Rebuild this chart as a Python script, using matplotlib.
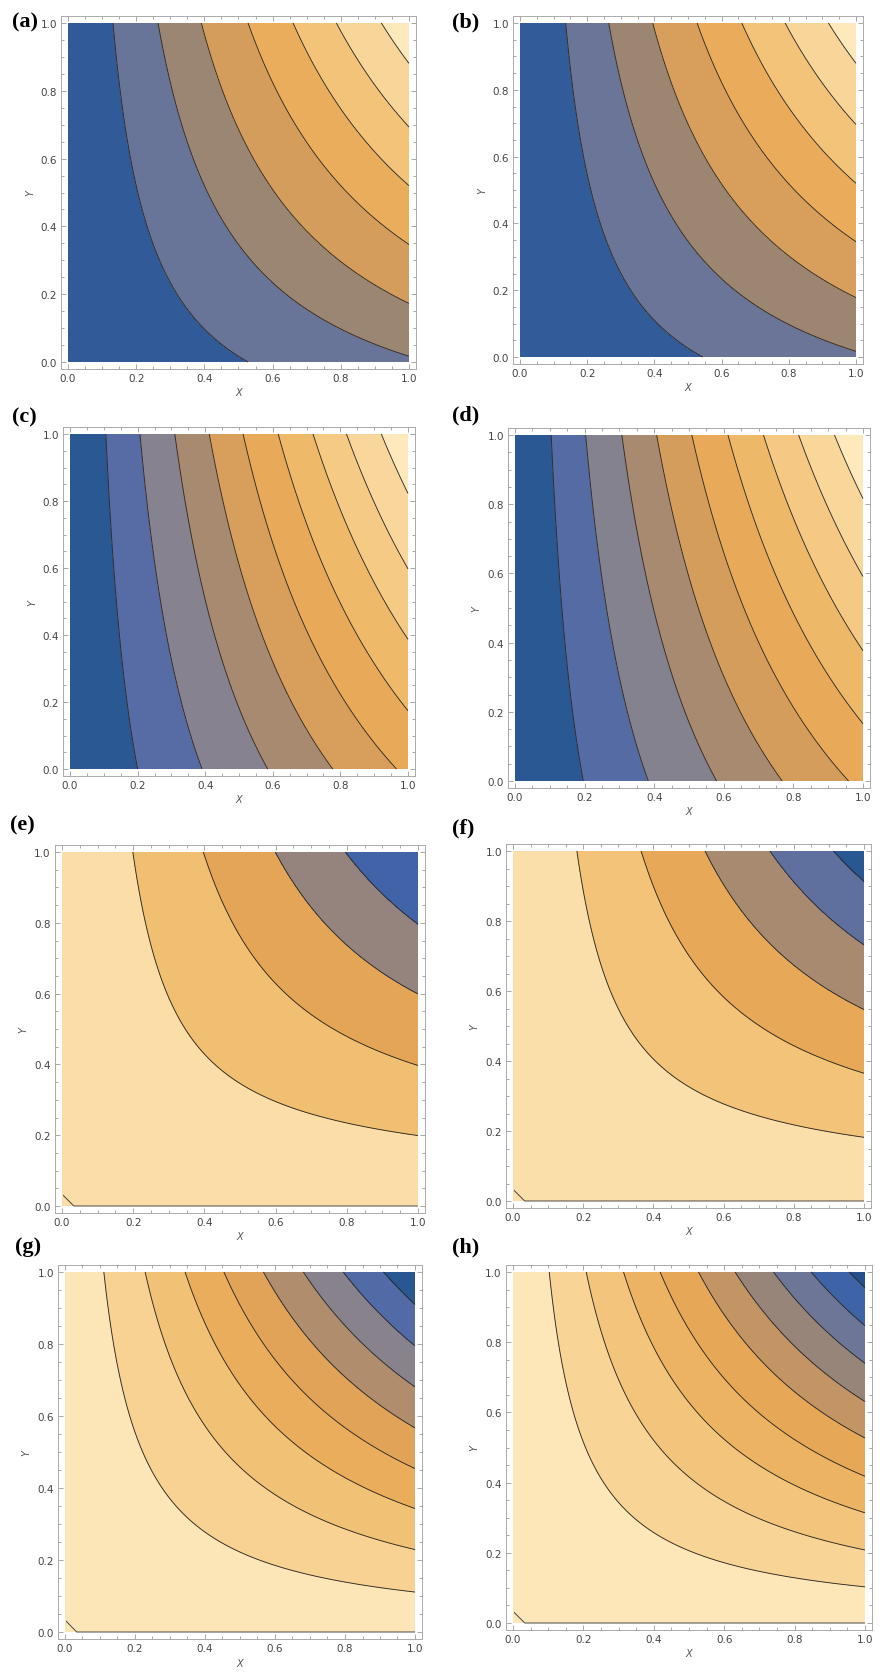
import numpy as np
import matplotlib.pyplot as plt
from matplotlib.colors import LinearSegmentedColormap
from matplotlib.patches import Rectangle

levels_a = [0.132, 0.264, 0.391, 0.528, 0.660, 0.787, 0.919]
levels_b = [0.136, 0.264, 0.395, 0.527, 0.660, 0.789, 0.918]
levels_c = [0.106, 0.207, 0.310, 0.412, 0.512, 0.616, 0.719, 0.818, 0.921]
levels_d = [0.104, 0.203, 0.307, 0.407, 0.508, 0.612, 0.714, 0.815, 0.918]
levels_e = [0.199, 0.397, 0.599, 0.796]
levels_f = [0.182, 0.365, 0.547, 0.732, 0.913]
levels_g = [0.111, 0.229, 0.343, 0.454, 0.567, 0.681, 0.795, 0.910]
levels_h = [0.103, 0.208, 0.314, 0.418, 0.527, 0.631, 0.740, 0.847, 0.955]

# profile along x = 1 for panels a-d: h(y) = h0 + h1*y + h2*y^2
profile_ab = [0.25, 0.83, -0.08]
profile_cd = [0.53, 0.50, -0.03]
# bulge of the symmetric panels e-h: f = x*y / (x+y)**q
shape_e, shape_f, shape_g, shape_h = 0.4, 0.3, 0.0, 0.0

labels = ['(a)', '(b)', '(c)', '(d)', '(e)', '(f)', '(g)', '(h)']

# mathematica-like contour colours (blue -> grey -> orange -> pale yellow)
anchors = [(0.00, '#224e8a'), (0.05, '#2a5892'), (0.10, '#4063a8'),
           (0.155, '#566ba4'), (0.20, '#6b7598'), (0.256, '#868290'),
           (0.33, '#9c8672'), (0.36, '#a88a70'), (0.46, '#d69d5c'),
           (0.50, '#e5a557'), (0.58, '#e9aa58'), (0.68, '#efbb6c'),
           (0.77, '#f5ca84'), (0.87, '#f9d79c'), (0.96, '#fde9bc'),
           (1.00, '#fff3d2')]
cm = LinearSegmentedColormap.from_list('m10', anchors)
cm_r = cm.reversed()

n = 401
xs = np.linspace(0, 1, n)
X, Y = np.meshgrid(xs, xs)


def field_xy(x, y, prof):
    return x * (prof[0] + prof[1] * y + prof[2] * y ** 2)


def field_sym(x, y, q):
    f = x * y / np.maximum(x + y, 1e-12) ** q
    # rescale so that the value equals the crossing on the top edge
    t = np.linspace(0, 1, 2001)
    return np.interp(f, t / (1 + t) ** q, t)


panels = [
    (levels_a, field_xy(X, Y, profile_ab), cm, None),
    (levels_b, field_xy(X, Y, profile_ab), cm, None),
    (levels_c, field_xy(X, Y, profile_cd), cm, None),
    (levels_d, field_xy(X, Y, profile_cd), cm, None),
    (levels_e, field_sym(X, Y, shape_e), cm_r, shape_e),
    (levels_f, field_sym(X, Y, shape_f), cm_r, shape_f),
    (levels_g, field_sym(X, Y, shape_g), cm_r, shape_g),
    (levels_h, field_sym(X, Y, shape_h), cm_r, shape_h),
]

# pixel extents of the 0..1 data square of each panel: x0, x1, ytop, ybottom
boxes = [(68, 409, 24, 363), (520, 856, 24, 358),
         (70, 408, 435, 770), (515, 863, 436, 782),
         (62, 418, 853, 1207), (513, 864, 852, 1202),
         (65, 415, 1273, 1633), (513, 865, 1273, 1624)]
label_pos = [(12, 22), (452, 22), (12, 417), (452, 415),
             (10, 825), (452, 828), (15, 1247), (452, 1247)]

W, H = 883, 1674
fig = plt.figure(figsize=(W / 100, H / 100), dpi=100)
pad = 0.02

for i, (lv, U, cmap, q) in enumerate(panels):
    x0, x1, yt, yb = boxes[i]
    dw = (x1 - x0) * pad
    dh = (yb - yt) * pad
    ax = fig.add_axes([(x0 - dw) / W, 1 - (yb + dh) / H,
                       (x1 - x0 + 2 * dw) / W, (yb - yt + 2 * dh) / H])
    ax.contourf(X, Y, U, levels=[0] + lv + [1], cmap=cmap, vmin=0, vmax=1)
    ax.contour(X, Y, U, levels=lv, colors='#2e2a25', linewidths=0.65)
    if q is not None:
        # zero-level contour on a coarse grid (the corner artefact)
        xc = np.linspace(0, 1, 31)
        XC, YC = np.meshgrid(xc, xc)
        cs = ax.contour(XC, YC, field_sym(XC, YC, q), levels=[1e-7],
                        colors='#4a4540', linewidths=0.7)
        cs.set_clip_path(Rectangle((0.004, -0.1), 1.2, 1.2,
                                   transform=ax.transData))
    ax.set_xlim(-pad, 1 + pad)
    ax.set_ylim(-pad, 1 + pad)
    ticks = [0, 0.2, 0.4, 0.6, 0.8, 1.0]
    ax.set_xticks(ticks)
    ax.set_yticks(ticks)
    ax.set_xticklabels(['%.1f' % t for t in ticks])
    ax.set_yticklabels(['%.1f' % t for t in ticks])
    ax.set_xticks(np.arange(0, 1.001, 0.05), minor=True)
    ax.set_yticks(np.arange(0, 1.001, 0.05), minor=True)
    ax.tick_params(which='both', direction='in', top=True, right=True,
                   color='#999999', labelsize=7.5, labelcolor='#444444',
                   width=0.6, pad=3)
    ax.tick_params(which='major', length=3.5)
    ax.tick_params(which='minor', length=2)
    for s in ax.spines.values():
        s.set_color('#aaaaaa')
        s.set_linewidth(0.7)
    ax.set_xlabel('X', fontsize=7, color='#555555', labelpad=3,
                  fontstyle='italic')
    ax.set_ylabel('Y', fontsize=7, color='#555555', labelpad=4,
                  fontstyle='italic')
    lx, ly = label_pos[i]
    fig.text(lx / W, 1 - ly / H, labels[i], fontsize=16, fontweight='bold',
             family='Liberation Serif', ha='left', va='center')

fig.savefig('out.png', dpi=100)
